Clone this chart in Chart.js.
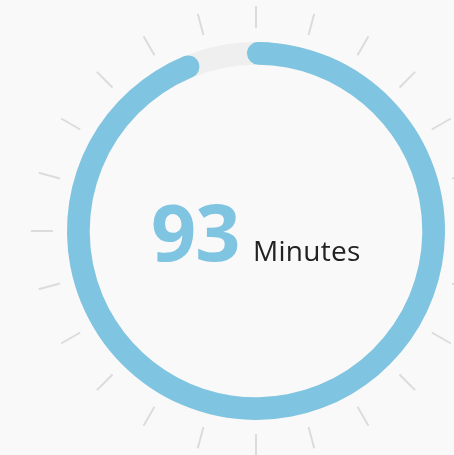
<!DOCTYPE html>
<html>
<head>
<meta charset="utf-8">
<script src="https://cdn.jsdelivr.net/npm/chart.js@4"></script>
<style>
  body { margin: 0; background: #f9f9f9; }
  #wrap { position: relative; width: 454px; height: 455px; overflow: hidden; }
  #wrap canvas { position: absolute; left: 0; top: 0; }
  #label { position: absolute; left: 0; top: 0; width: 454px; font-family: "Open Sans", sans-serif; }
  #value { position: absolute; left: 151px; top: 191px; font-size: 79px; font-weight: 700; color: #7fc4e0; line-height: 1; letter-spacing: -1px; }
  #unit { position: absolute; left: 253px; top: 236px; font-size: 28px; color: #222; line-height: 1; letter-spacing: 0.3px; }
</style>
</head>
<body>
<div id="wrap">
  <canvas id="track" width="454" height="455"></canvas>
  <canvas id="gauge" width="454" height="455"></canvas>
  <div id="label"><span id="value"></span><span id="unit"></span></div>
</div>
<script>
const gaugeValue = 93
const gaugeMax = 100
const unitLabel = "Minutes"
const tickCount = 24

document.getElementById("value").textContent = gaugeValue
document.getElementById("unit").textContent = unitLabel

const pad = { left: 67, right: 9, top: 42, bottom: 35 }

// tick marks around the ring
const ticksPlugin = {
  id: "ticks",
  afterDraw(chart) {
    const ctx = chart.ctx
    const a = chart.chartArea
    const cx = (a.left + a.right) / 2
    const cy = (a.top + a.bottom) / 2
    ctx.save()
    ctx.strokeStyle = "#dcdcdc"
    ctx.lineWidth = 2
    for (let i = 0; i < tickCount; i++) {
      const ang = (i / tickCount) * Math.PI * 2 - Math.PI / 2
      ctx.beginPath()
      ctx.moveTo(cx + Math.cos(ang) * 203, cy + Math.sin(ang) * 203)
      ctx.lineTo(cx + Math.cos(ang) * 225, cy + Math.sin(ang) * 225)
      ctx.stroke()
    }
    ctx.restore()
  },
}

const common = {
  responsive: false,
  animation: false,
  cutout: "88%",
  layout: { padding: pad },
  plugins: { legend: { display: false }, tooltip: { enabled: false } },
  events: [],
}

new Chart(document.getElementById("track"), {
  type: "doughnut",
  data: {
    datasets: [{ data: [gaugeMax], backgroundColor: ["#efefef"], borderWidth: 0 }],
  },
  options: common,
  plugins: [ticksPlugin],
})

// round caps stick out past the arc ends, so widen the sweep a little
const capStart = -2.9
const sweep = 370

new Chart(document.getElementById("gauge"), {
  type: "doughnut",
  data: {
    datasets: [
      {
        data: [gaugeValue, gaugeMax - gaugeValue],
        backgroundColor: ["#7fc4e0", "rgba(0,0,0,0)"],
        borderWidth: 0,
        borderRadius: [12, 0],
      },
    ],
  },
  options: { ...common, rotation: capStart, circumference: sweep },
})
</script>
</body>
</html>
